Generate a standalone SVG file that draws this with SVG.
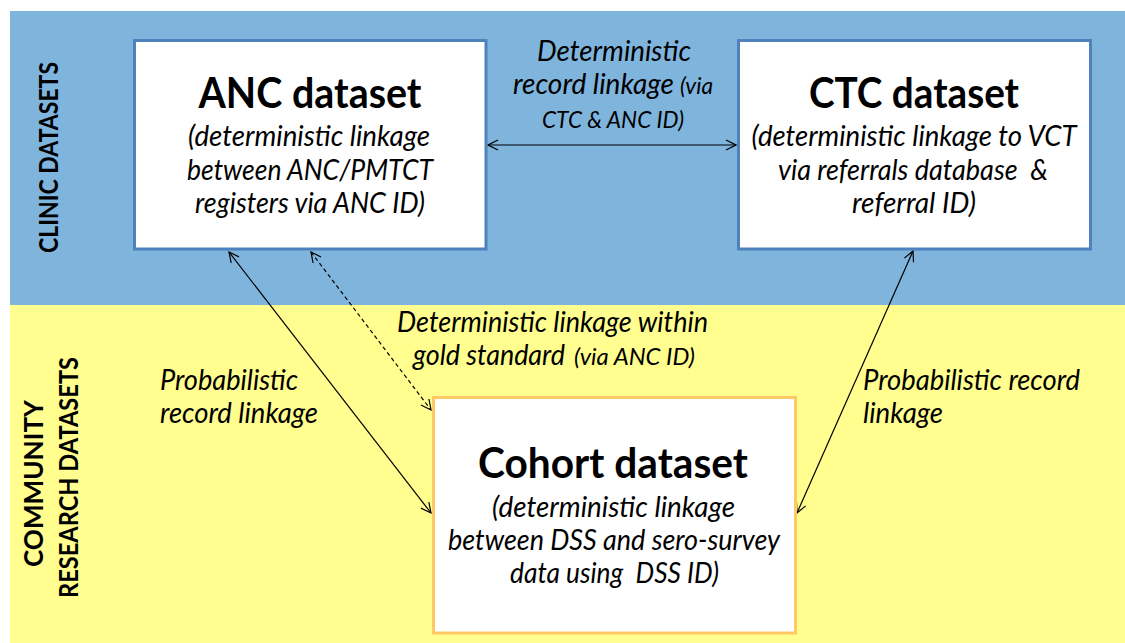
<svg xmlns="http://www.w3.org/2000/svg" width="1125" height="643" viewBox="0 0 1125 643">
  <style>
    text { font-family: Lato, "Liberation Sans", sans-serif; fill: #000; }
    .band { font-weight: bold; font-size: 27px; text-anchor: middle; }
    .title { font-weight: bold; font-size: 42px; text-anchor: middle; }
    .sub { font-style: italic; font-size: 28.5px; text-anchor: middle; }
    .lbl { font-style: italic; font-size: 28.5px; }
    .mid { text-anchor: middle; }
    .small { font-size: 24px; }
    .pre { white-space: pre; }
    .clinic { fill: #fff; stroke: #4F81BD; stroke-width: 3; }
    .cohort { fill: #fff; stroke: #FFC966; stroke-width: 3; }
    .link { fill: none; stroke: #000; stroke-width: 1.2; marker-start: url(#arrow); marker-end: url(#arrow); }
    .dashed { stroke-dasharray: 4 3; }
  </style>
  <defs>
    <marker id="arrow" viewBox="0 0 12 12" refX="11" refY="6" markerWidth="12" markerHeight="12" markerUnits="userSpaceOnUse" orient="auto-start-reverse">
      <path d="M1,1 L11,6 L1,11" fill="none" stroke="#000" stroke-width="1.2"/>
    </marker>
  </defs>

  <!-- background bands -->
  <rect x="0" y="0" width="1125" height="643" fill="#fff"/>
  <rect x="10" y="11" width="1115" height="294" fill="#7FB4DD"/>
  <rect x="10" y="305" width="1115" height="338" fill="#FFFE8E"/>

  <!-- band labels -->
  <text class="band" transform="translate(58,157.5) rotate(-90)" textLength="191" lengthAdjust="spacingAndGlyphs">CLINIC DATASETS</text>
  <text class="band" transform="translate(43,483.5) rotate(-90)" textLength="167" lengthAdjust="spacingAndGlyphs">COMMUNITY</text>
  <text class="band" transform="translate(78,477.5) rotate(-90)" textLength="241" lengthAdjust="spacingAndGlyphs">RESEARCH DATASETS</text>

  <!-- connectors -->
  <g id="connectors">
    <line class="link" x1="488" y1="145" x2="736" y2="145"/>
    <line class="link" x1="229" y1="252" x2="431" y2="513"/>
    <line class="link dashed" x1="311" y1="252" x2="431" y2="410"/>
    <line class="link" x1="913" y1="251" x2="797" y2="513"/>
  </g>

  <!-- connector labels -->
  <g id="labels">
    <text class="lbl mid" x="614" y="61" textLength="154" lengthAdjust="spacingAndGlyphs">Deterministic</text>
    <text class="lbl" x="513" y="94" textLength="161" lengthAdjust="spacingAndGlyphs">record linkage</text>
    <text class="lbl small" x="680" y="94" textLength="33" lengthAdjust="spacingAndGlyphs">(via</text>
    <text class="lbl mid small" x="613" y="128" textLength="142" lengthAdjust="spacingAndGlyphs">CTC &amp; ANC ID)</text>

    <text class="lbl mid" x="552.5" y="332" textLength="311" lengthAdjust="spacingAndGlyphs">Deterministic linkage within</text>
    <text class="lbl" x="413" y="365" textLength="152" lengthAdjust="spacingAndGlyphs">gold standard</text>
    <text class="lbl small" x="574" y="365" textLength="121" lengthAdjust="spacingAndGlyphs">(via ANC ID)</text>

    <text class="lbl" x="160" y="390" textLength="138" lengthAdjust="spacingAndGlyphs">Probabilistic</text>
    <text class="lbl" x="160" y="423" textLength="158" lengthAdjust="spacingAndGlyphs">record linkage</text>

    <text class="lbl" x="863" y="390" textLength="217" lengthAdjust="spacingAndGlyphs">Probabilistic record</text>
    <text class="lbl" x="863" y="423" textLength="80" lengthAdjust="spacingAndGlyphs">linkage</text>
  </g>

  <!-- ANC node -->
  <g id="anc">
    <rect class="clinic" x="134.5" y="40.5" width="351.5" height="208.5"/>
    <text class="title" x="310" y="108" textLength="223" lengthAdjust="spacingAndGlyphs">ANC dataset</text>
    <text class="sub" x="309" y="146" textLength="242" lengthAdjust="spacingAndGlyphs">(deterministic linkage</text>
    <text class="sub" x="310" y="179.5" textLength="246" lengthAdjust="spacingAndGlyphs">between ANC/PMTCT</text>
    <text class="sub" x="310" y="213" textLength="230" lengthAdjust="spacingAndGlyphs">registers via ANC ID)</text>
  </g>

  <!-- CTC node -->
  <g id="ctc">
    <rect class="clinic" x="738.5" y="40.5" width="352" height="208.5"/>
    <text class="title" x="914" y="108" textLength="210" lengthAdjust="spacingAndGlyphs">CTC dataset</text>
    <text class="sub" x="914" y="146" textLength="325" lengthAdjust="spacingAndGlyphs">(deterministic linkage to VCT</text>
    <text class="sub pre" x="913" y="179.5" textLength="270" lengthAdjust="spacingAndGlyphs">via referrals database  &amp;</text>
    <text class="sub" x="914" y="213" textLength="124" lengthAdjust="spacingAndGlyphs">referral ID)</text>
  </g>

  <!-- Cohort node -->
  <g id="cohort">
    <rect class="cohort" x="433.5" y="397.5" width="362" height="235.5"/>
    <text class="title" x="613" y="478" textLength="270" lengthAdjust="spacingAndGlyphs">Cohort dataset</text>
    <text class="sub" x="613.5" y="517" textLength="243" lengthAdjust="spacingAndGlyphs">(deterministic linkage</text>
    <text class="sub" x="614" y="550" textLength="332" lengthAdjust="spacingAndGlyphs">between DSS and sero-survey</text>
    <text class="sub pre" x="614.5" y="583" textLength="209" lengthAdjust="spacingAndGlyphs">data using  DSS ID)</text>
  </g>
</svg>
